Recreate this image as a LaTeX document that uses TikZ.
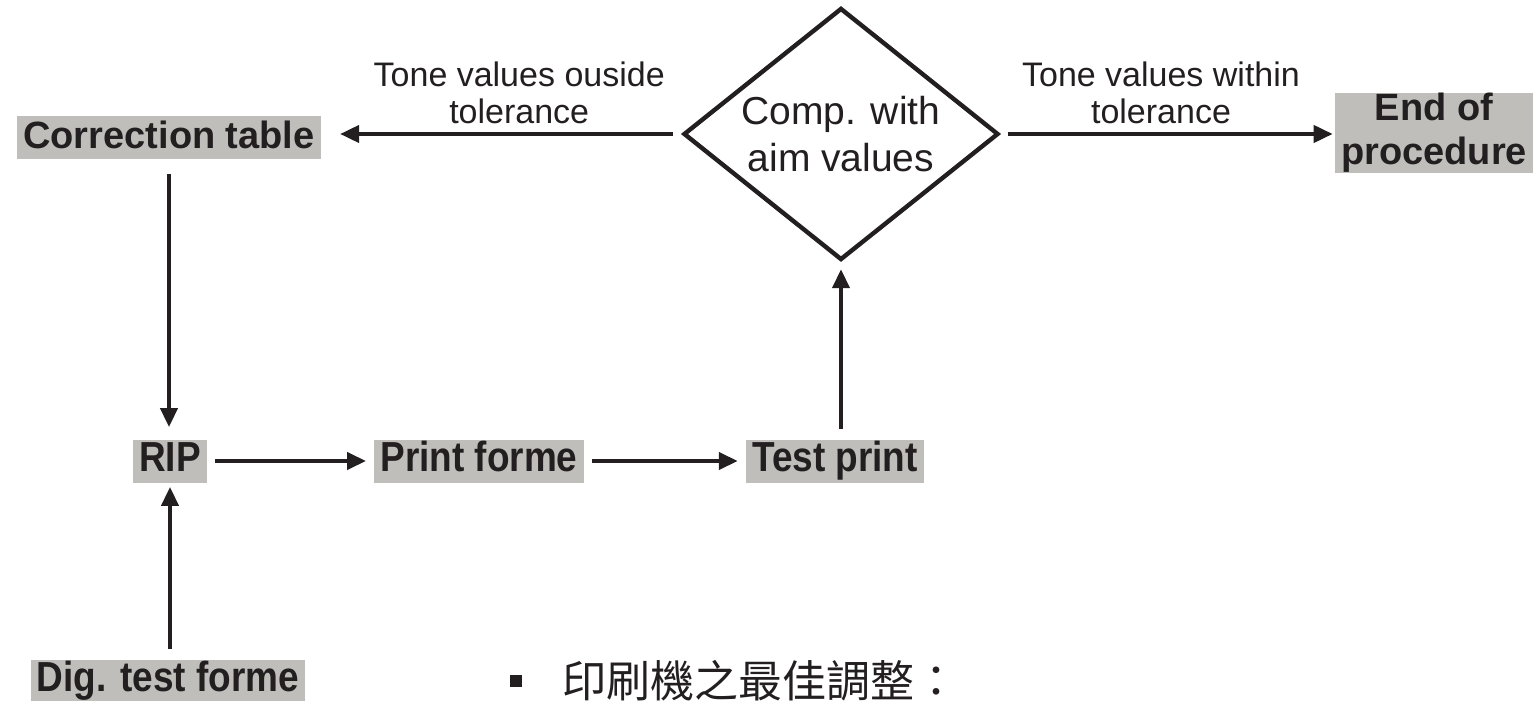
\documentclass[tikz,border=0pt]{standalone}
\usepackage{fontspec}
\setmainfont{Liberation Sans}
\setsansfont{Liberation Sans}
\newfontfamily\narrowsf[FakeStretch=0.88]{Liberation Sans}
\newfontfamily\cjk{Noto Sans CJK TC}
\usetikzlibrary{
  arrows.meta,
  positioning,
  shapes.geometric
}
\definecolor{boxgray}{RGB}{191,190,186}
\definecolor{ink}{RGB}{35,31,32}

\begin{document}
\begin{tikzpicture}[
            x=0.5pt, y=-0.5pt,
            font=\sffamily,
            text=ink,
            % grey boxes, bold text
            box/.style={rectangle, fill=boxgray, inner xsep=3pt, inner ysep=0pt, font=\sffamily\bfseries\fontsize{19}{22}\selectfont},
            onebox/.style={box, minimum height=21.5pt, text height=16pt, text depth=5.5pt},
            narrowbox/.style={onebox, font=\narrowsf\bfseries\fontsize{21}{24}\selectfont},
            decision/.style={diamond, draw=ink, line width=2.2pt, fill=white, aspect=1.25, inner sep=0pt, minimum width=157.5pt, minimum height=126pt, align=center, font=\sffamily\fontsize{19.5}{23.5}\selectfont},
            note/.style={align=center, inner sep=0pt, font=\sffamily\fontsize{17}{18.5}\selectfont},
            arrow/.style={line width=2pt, draw=ink, -{Triangle[length=9.5pt,width=8.5pt]}, shorten <=4pt, shorten >=4pt}
        ]

        \useasboundingbox (0,0) rectangle (1533,701);

        % Nodes
        \node (corr) [onebox] at (169,138) {Correction table};
        \node (comp) [decision] at (841,134) {Comp. with\\aim values};
        \node (endp) [box, align=center] at (1434,133) {End of\\procedure};

        \node (rip) [narrowbox] at (170,461) {RIP};
        \node (forme) [narrowbox] at (479,461) {Print forme};
        \node (test) [narrowbox] at (835,461) {Test print};
        \node (dig) [narrowbox] at (168,681) {Dig. test forme};

        % Bullet line
        \node (title) [anchor=west, inner sep=0pt, font=\cjk\fontsize{22}{26}\selectfont] at (510,681) {\rule[5.4pt]{6pt}{6pt}\hspace{20pt}印刷機之最佳調整：};

        % Connections
        \draw [arrow, shorten >=9.5pt] (comp.west) -- node[note, above=4pt, pos=0.45] {Tone values ouside\\tolerance} (corr.east |- comp.west);
        \draw [arrow, shorten >=1pt, shorten <=3.5pt] (comp.east) -- node[note, above=4pt, pos=0.48] {Tone values within\\tolerance} (endp.west |- comp.east);

        \draw [arrow, shorten <=7pt, shorten >=6pt] (corr.south) -- (corr.south |- rip.north);
        \draw [arrow, shorten <=5pt, shorten >=2pt] (dig.north -| rip.south) -- (rip.south);

        \draw [arrow] (rip) -- (forme);
        \draw [arrow] (forme) -- (test);

        \draw [arrow, shorten <=5pt, shorten >=3.5pt] (test.north -| comp.south) -- (comp.south);

    \end{tikzpicture}
\end{document}
